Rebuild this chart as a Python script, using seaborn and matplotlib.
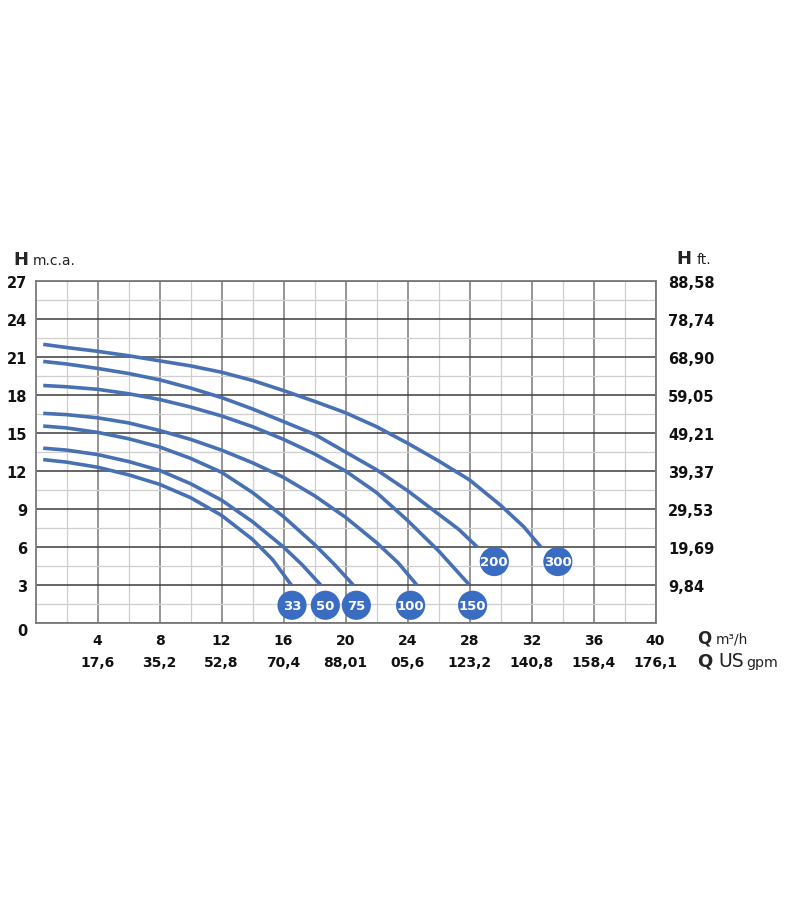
import numpy as np
import pandas as pd
import matplotlib.pyplot as plt
import seaborn as sns

# pump curves: Q in m3/h, H in m.c.a.
models = ["33", "50", "75", "100", "150", "200", "300"]

q_33 = [0.5, 2, 4, 6, 8, 10, 12, 14, 15.3, 16.5]
h_33 = [12.9, 12.7, 12.3, 11.7, 10.95, 9.9, 8.5, 6.6, 5.0, 3.0]
q_50 = [0.5, 2, 4, 6, 8, 10, 12, 14, 16, 17.2, 18.4]
h_50 = [13.8, 13.65, 13.3, 12.75, 12.05, 11.0, 9.7, 8.0, 6.0, 4.6, 3.0]
q_75 = [0.5, 2, 4, 6, 8, 10, 12, 14, 16, 18, 19.3, 20.5]
h_75 = [15.55, 15.4, 15.05, 14.55, 13.9, 13.0, 11.9, 10.3, 8.4, 6.2, 4.6, 3.0]
q_100 = [0.5, 2, 4, 6, 8, 10, 12, 14, 16, 18, 20, 22, 23.4, 24.6]
h_100 = [16.55, 16.45, 16.2, 15.8, 15.2, 14.5, 13.65, 12.65, 11.5, 10.05, 8.35, 6.35, 4.75, 3.0]
q_150 = [0.5, 2, 4, 6, 8, 10, 12, 14, 16, 18, 20, 22, 24, 26, 28]
h_150 = [18.75, 18.65, 18.45, 18.1, 17.65, 17.05, 16.35, 15.5, 14.5, 13.35, 12.0, 10.3, 8.1, 5.7, 3.0]
q_200 = [0.5, 2, 4, 6, 8, 10, 12, 14, 16, 18, 20, 22, 24, 26, 27.3, 28.5]
h_200 = [20.65, 20.45, 20.1, 19.7, 19.2, 18.55, 17.8, 16.9, 15.9, 14.9, 13.5, 12.1, 10.45, 8.6, 7.4, 6.0]
q_300 = [0.5, 2, 4, 6, 8, 10, 12, 14, 16, 18, 20, 22, 24, 26, 28, 30, 31.5, 32.6]
h_300 = [22.0, 21.75, 21.45, 21.1, 20.7, 20.3, 19.8, 19.15, 18.35, 17.5, 16.6, 15.5, 14.2, 12.8, 11.3, 9.3, 7.6, 6.0]

# axis labels
h_ticks = [0, 3, 6, 9, 12, 15, 18, 21, 24, 27]
ft_labels = ["9,84", "19,69", "29,53", "39,37", "49,21", "59,05", "68,90", "78,74", "88,58"]
q_ticks = [4, 8, 12, 16, 20, 24, 28, 32, 36, 40]
gpm_labels = ["17,6", "35,2", "52,8", "70,4", "88,01", "05,6", "123,2", "140,8", "158,4", "176,1"]

# where the round model badges sit (Q, H)
label_pos = [(16.55, 1.4), (18.7, 1.4), (20.7, 1.4), (24.2, 1.4), (28.2, 1.4),
             (29.6, 4.85), (33.7, 4.85)]

curves = [(q_33, h_33), (q_50, h_50), (q_75, h_75), (q_100, h_100),
          (q_150, h_150), (q_200, h_200), (q_300, h_300)]
rows = []
for m, (qs, hs) in zip(models, curves):
    for q, h in zip(qs, hs):
        rows.append({"model": m, "Q": q, "H": h})
df = pd.DataFrame(rows)
badges = pd.DataFrame({"model": models,
                       "Q": [p[0] for p in label_pos],
                       "H": [p[1] for p in label_pos]})

sns.set_style("white")
plt.rcParams["font.family"] = ["DejaVu Sans"]

line_col = "#4871b3"
badge_col = "#3a6cc2"

fig = plt.figure(figsize=(8, 9.2), dpi=100)
ax = fig.add_axes([35.5 / 800, 1 - 624 / 920, 620 / 800, (624 - 282) / 920])

sns.lineplot(data=df, x="Q", y="H", units="model", estimator=None, sort=False,
             color=line_col, lw=2.6, ax=ax, zorder=3,
             solid_joinstyle="round", solid_capstyle="butt")
sns.scatterplot(data=badges, x="Q", y="H", s=440, color=badge_col,
                edgecolor="none", ax=ax, zorder=4)
for _, r in badges.iterrows():
    ax.text(r["Q"], r["H"], r["model"], color="white", fontsize=9.5,
            fontweight="bold", ha="center", va="center", zorder=5)

ax.set_xlim(0, 40)
ax.set_ylim(0, 27)
ax.set_xlabel("")
ax.set_ylabel("")

# grid
ax.set_xticks(q_ticks)
ax.set_xticklabels([str(t) for t in q_ticks])
ax.set_yticks(h_ticks)
ax.set_yticklabels([str(t) for t in h_ticks])
ax.set_xticks(np.arange(2, 40, 4), minor=True)
ax.set_yticks(np.arange(1.5, 27, 3), minor=True)
ax.set_axisbelow(True)
ax.grid(which="minor", color="#cfcfcf", lw=0.9)
ax.grid(which="major", axis="x", color="#8c8c8c", lw=1.3)
ax.grid(which="major", axis="y", color="#3c3c3c", lw=1.1)
for s in ax.spines.values():
    s.set_color("#7a7a7a")
    s.set_linewidth(1.3)

ax.tick_params(which="both", length=0)
ax.tick_params(axis="x", pad=7)
ax.tick_params(axis="y", pad=6)
for t in ax.get_xticklabels():
    t.set_fontweight("bold")
    t.set_fontsize(10)
    t.set_color("#111111")
for t in ax.get_yticklabels():
    t.set_fontweight("bold")
    t.set_fontsize(10.5)
    t.set_color("#111111")
ax.get_yticklabels()[0].set_va("top")

# right axis in feet
sec_y = ax.secondary_yaxis("right")
sec_y.set_yticks(h_ticks[1:], ft_labels)
sec_y.tick_params(length=0, pad=9)
sec_y.spines["right"].set_visible(False)
for t in sec_y.get_yticklabels():
    t.set_fontweight("bold")
    t.set_fontsize(10.5)
    t.set_color("#111111")

# second row under x axis, US gpm
sec_x = ax.secondary_xaxis("bottom")
sec_x.set_xticks(q_ticks, gpm_labels)
sec_x.tick_params(length=0, pad=23)
sec_x.spines["bottom"].set_visible(False)
for t in sec_x.get_xticklabels():
    t.set_fontweight("bold")
    t.set_fontsize(10)
    t.set_color("#111111")

# unit labels
def fy(py):
    return 1 - py / 920

fig.text(13 / 800, fy(265), "H", fontsize=13, fontweight="bold", va="baseline")
fig.text(33 / 800, fy(265), "m.c.a.", fontsize=10, va="baseline", color="#222222")
fig.text(676 / 800, fy(264), "H", fontsize=13, fontweight="bold", va="baseline")
fig.text(697 / 800, fy(264), "ft.", fontsize=10, va="baseline", color="#222222")
fig.text(697 / 800, fy(644), "Q", fontsize=12, fontweight="bold", va="baseline")
fig.text(716 / 800, fy(644), "m³/h", fontsize=9.8, va="baseline", color="#222222")
fig.text(697 / 800, fy(667), "Q", fontsize=13, fontweight="bold", va="baseline")
fig.text(718 / 800, fy(667), "US", fontsize=13.5, va="baseline", color="#222222")
fig.text(746 / 800, fy(667), "gpm", fontsize=10.2, va="baseline", color="#222222")

plt.savefig("out.png", dpi=100)
print("finished.")
